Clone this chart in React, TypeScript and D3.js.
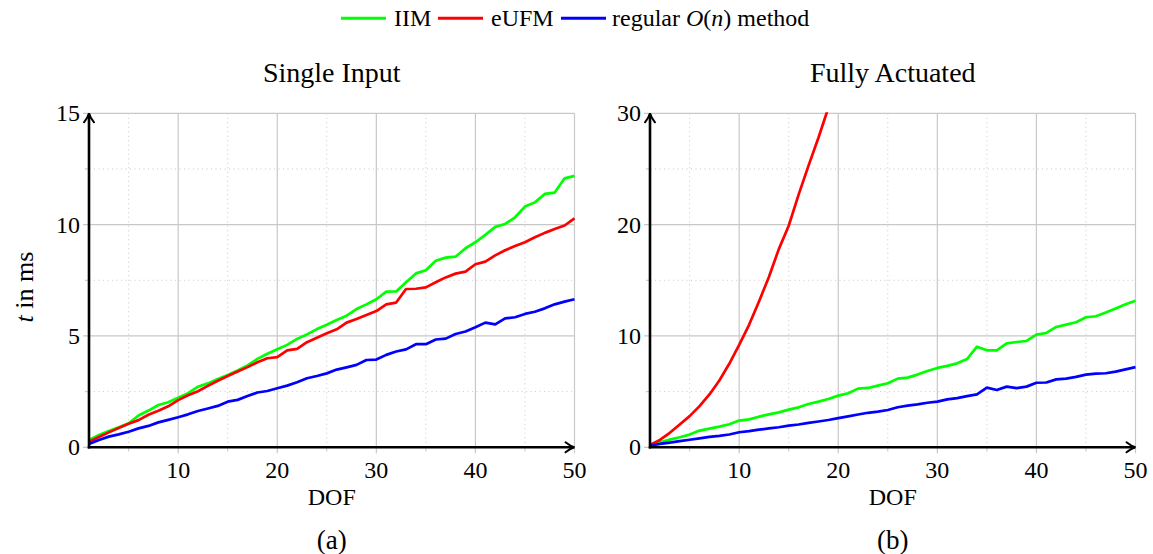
import React from "react";
import * as d3 from "d3";

// DOF values 1..50
const dof: number[] = d3.range(1, 51);

// (a) Single Input
const iimA: number[] = [0.33, 0.55, 0.73, 0.9, 1.08, 1.43, 1.65, 1.9, 2.02, 2.23,
  2.43, 2.72, 2.87, 3.07, 3.25, 3.45, 3.68, 3.97, 4.2, 4.4,
  4.6, 4.87, 5.07, 5.31, 5.5, 5.72, 5.91, 6.21, 6.42, 6.65,
  6.99, 7.0, 7.41, 7.81, 7.95, 8.38, 8.52, 8.56, 8.94, 9.21,
  9.54, 9.9, 10.03, 10.33, 10.81, 11.0, 11.38, 11.44, 12.08, 12.19];
const eufmA: number[] = [0.25, 0.46, 0.67, 0.87, 1.06, 1.22, 1.46, 1.64, 1.84, 2.12,
  2.34, 2.52, 2.76, 2.99, 3.2, 3.4, 3.6, 3.82, 4.0, 4.05,
  4.35, 4.42, 4.72, 4.92, 5.12, 5.3, 5.6, 5.76, 5.94, 6.12,
  6.42, 6.5, 7.11, 7.12, 7.18, 7.41, 7.63, 7.8, 7.89, 8.22,
  8.34, 8.62, 8.85, 9.04, 9.21, 9.43, 9.63, 9.8, 9.96, 10.28];
const regA: number[] = [0.15, 0.33, 0.48, 0.58, 0.7, 0.85, 0.96, 1.12, 1.23, 1.35,
  1.48, 1.63, 1.74, 1.86, 2.05, 2.13, 2.3, 2.46, 2.53, 2.65,
  2.77, 2.92, 3.1, 3.2, 3.32, 3.49, 3.59, 3.7, 3.92, 3.94,
  4.15, 4.3, 4.4, 4.63, 4.63, 4.84, 4.88, 5.09, 5.2, 5.39,
  5.6, 5.52, 5.79, 5.84, 5.99, 6.09, 6.24, 6.42, 6.54, 6.65];

// (b) Fully Actuated
const iimB: number[] = [0.24, 0.45, 0.69, 0.9, 1.14, 1.5, 1.68, 1.86, 2.07, 2.4,
  2.51, 2.75, 2.96, 3.14, 3.38, 3.59, 3.89, 4.1, 4.34, 4.64,
  4.85, 5.27, 5.33, 5.54, 5.75, 6.17, 6.26, 6.53, 6.86, 7.13,
  7.31, 7.54, 7.93, 9.04, 8.71, 8.71, 9.34, 9.46, 9.55, 10.12,
  10.27, 10.81, 11.02, 11.23, 11.68, 11.77, 12.1, 12.46, 12.84, 13.17];
const eufmB: number[] = [0.2, 0.66, 1.3, 2.05, 2.8, 3.7, 4.75, 6.0, 7.5, 9.2,
  11.0, 13.1, 15.3, 17.8, 19.9, 22.7, 25.3, 27.8, 30.5];
const regB: number[] = [0.15, 0.3, 0.42, 0.55, 0.68, 0.8, 0.93, 1.03, 1.15, 1.35,
  1.45, 1.58, 1.7, 1.8, 1.95, 2.05, 2.2, 2.32, 2.45, 2.62,
  2.78, 2.95, 3.1, 3.2, 3.35, 3.6, 3.75, 3.85, 4.0, 4.1,
  4.3, 4.42, 4.6, 4.75, 5.36, 5.15, 5.45, 5.32, 5.45, 5.8,
  5.82, 6.1, 6.17, 6.32, 6.53, 6.62, 6.65, 6.8, 7.0, 7.2];

const xMajor: number[] = [10, 20, 30, 40, 50];
const xMinor: number[] = [5, 15, 25, 35, 45];
const yMajorA: number[] = [0, 5, 10, 15];
const yMinorA: number[] = [2.5, 7.5, 12.5];
const yMajorB: number[] = [0, 10, 20, 30];
const yMinorB: number[] = [5, 15, 25];

const legendItems = [
  { key: "iim", color: "#00ff00" },
  { key: "eufm", color: "#ff0000" },
  { key: "reg", color: "#0000ff" },
];

const FONT = "'Liberation Serif', 'Times New Roman', serif";
const GRID = "#c8c8c8";

type PanelProps = {
  id: string;
  x0: number;
  x1: number;
  yMax: number;
  yMajor: number[];
  yMinor: number[];
  series: { values: number[]; color: string }[];
  title: string;
  label: string;
};

function Panel({ id, x0, x1, yMax, yMajor, yMinor, series, title, label }: PanelProps) {
  const top = 113.3;
  const bottom = 447.3;
  const x = d3.scaleLinear().domain([1, 50]).range([x0, x1]);
  const y = d3.scaleLinear().domain([0, yMax]).range([bottom, top]);
  const line = d3
    .line<number>()
    .x((_, i) => x(dof[i]))
    .y((d) => y(d));
  const cx = (x0 + x1) / 2;
  return (
    <g>
      <defs>
        <clipPath id={id}>
          <rect x={x0} y={top - 1} width={x1 - x0 + 1} height={bottom - top + 2} />
        </clipPath>
      </defs>
      {/* minor grid */}
      {xMinor.map((v) => (
        <line key={"xm" + v} x1={x(v)} x2={x(v)} y1={top} y2={bottom + 4}
          stroke={GRID} strokeWidth={1} strokeDasharray="1 3.5" />
      ))}
      {yMinor.map((v) => (
        <line key={"ym" + v} x1={x0 - 4} x2={x1} y1={y(v)} y2={y(v)}
          stroke={GRID} strokeWidth={1} strokeDasharray="1 3.5" />
      ))}
      {xMinor.map((v) => (
        <line key={"xmt" + v} x1={x(v)} x2={x(v)} y1={bottom} y2={bottom + 4}
          stroke={GRID} strokeWidth={1} />
      ))}
      {yMinor.map((v) => (
        <line key={"ymt" + v} x1={x0 - 4} x2={x0} y1={y(v)} y2={y(v)}
          stroke={GRID} strokeWidth={1} />
      ))}
      {/* major grid */}
      {xMajor.map((v) => (
        <line key={"xM" + v} x1={x(v)} x2={x(v)} y1={top} y2={bottom + 6}
          stroke={GRID} strokeWidth={1.2} />
      ))}
      {yMajor.map((v) => (
        <line key={"yM" + v} x1={x0 - 6} x2={x1} y1={y(v)} y2={y(v)}
          stroke={GRID} strokeWidth={1.2} />
      ))}
      {/* series */}
      <g clipPath={`url(#${id})`}>
        {series.map((s, i) => (
          <path key={i} d={line(s.values) || ""} fill="none" stroke={s.color}
            strokeWidth={2.7} strokeLinejoin="round" />
        ))}
      </g>
      {/* axes */}
      <line x1={x0} x2={x0} y1={bottom + 1.2} y2={top + 1} stroke="#000" strokeWidth={2.6} />
      <path d={`M${x0 - 5},${top + 9} Q${x0 - 1},${top + 4} ${x0},${top} Q${x0 + 1},${top + 4} ${x0 + 5},${top + 9}`}
        fill="none" stroke="#000" strokeWidth={2} strokeLinecap="round" />
      <line x1={x0 - 1.2} x2={x1 - 1} y1={bottom} y2={bottom} stroke="#000" strokeWidth={2.6} />
      <path d={`M${x1 - 9},${bottom - 5} Q${x1 - 4},${bottom - 1} ${x1},${bottom} Q${x1 - 4},${bottom + 1} ${x1 - 9},${bottom + 5}`}
        fill="none" stroke="#000" strokeWidth={2} strokeLinecap="round" />
      {/* tick labels */}
      {yMajor.map((v) => (
        <text key={"yl" + v} x={x0 - 9} y={y(v) + 8} textAnchor="end"
          fontFamily={FONT} fontSize={24}>{v}</text>
      ))}
      {xMajor.map((v) => (
        <text key={"xl" + v} x={x(v)} y={bottom + 31} textAnchor="middle"
          fontFamily={FONT} fontSize={24}>{v}</text>
      ))}
      <text x={cx} y={505} textAnchor="middle" fontFamily={FONT} fontSize={24}>DOF</text>
      <text x={cx} y={82} textAnchor="middle" fontFamily={FONT} fontSize={28}>{title}</text>
      <text x={cx} y={549} textAnchor="middle" fontFamily={FONT} fontSize={27}>{label}</text>
    </g>
  );
}

export default function App() {
  const colorOf = (k: string) => legendItems.find((l) => l.key === k)!.color;
  return (
    <svg width={1153} height={554} style={{ position: "absolute", left: 0, top: 0, background: "#fff" }}>
      <rect width={1153} height={554} fill="#fff" />
      {/* legend */}
      <g fontFamily={FONT} fontSize={24}>
        <line x1={341} x2={386} y1={18.3} y2={18.3} stroke={colorOf("iim")} strokeWidth={3} />
        <text x={394} y={26}>IIM</text>
        <line x1={438} x2={483} y1={18.3} y2={18.3} stroke={colorOf("eufm")} strokeWidth={3} />
        <text x={491} y={26}>eUFM</text>
        <line x1={561} x2={606} y1={18.3} y2={18.3} stroke={colorOf("reg")} strokeWidth={3} />
        <text x={612} y={26}>
          regular <tspan fontStyle="italic">O</tspan>(<tspan fontStyle="italic">n</tspan>) method
        </text>
      </g>
      <text transform="translate(33,287) rotate(-90)" textAnchor="middle" fontFamily={FONT} fontSize={26}>
        <tspan fontStyle="italic">t</tspan> in ms
      </text>
      <Panel id="clipA" x0={89} x1={574.5} yMax={15} yMajor={yMajorA} yMinor={yMinorA}
        series={[
          { values: iimA, color: colorOf("iim") },
          { values: eufmA, color: colorOf("eufm") },
          { values: regA, color: colorOf("reg") },
        ]}
        title="Single Input" label="(a)" />
      <Panel id="clipB" x0={650} x1={1135.5} yMax={30} yMajor={yMajorB} yMinor={yMinorB}
        series={[
          { values: iimB, color: colorOf("iim") },
          { values: eufmB, color: colorOf("eufm") },
          { values: regB, color: colorOf("reg") },
        ]}
        title="Fully Actuated" label="(b)" />
    </svg>
  );
}
